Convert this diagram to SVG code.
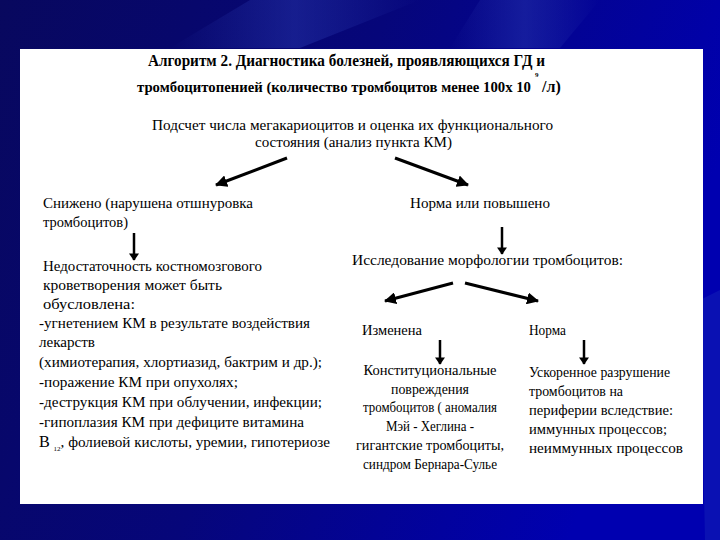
<svg xmlns="http://www.w3.org/2000/svg" width="720" height="540" viewBox="0 0 720 540">
<defs>
<linearGradient id="bg" x1="0" y1="0" x2="1" y2="0.3">
<stop offset="0" stop-color="#08085e"/>
<stop offset="0.5" stop-color="#06067a"/>
<stop offset="1" stop-color="#0000b0"/>
</linearGradient>
<linearGradient id="streak" x1="0" y1="0" x2="1" y2="0">
<stop offset="0" stop-color="#2a3ab0" stop-opacity="0"/>
<stop offset="0.5" stop-color="#2a3ab0" stop-opacity="0.45"/>
<stop offset="1" stop-color="#2a3ab0" stop-opacity="0"/>
</linearGradient>
<marker id="ah" viewBox="0 0 12 12" refX="11" refY="6" markerWidth="12" markerHeight="12" markerUnits="userSpaceOnUse" orient="auto">
<path d="M0,0 L12,6 L0,12 Z" fill="#000"/>
</marker>
<marker id="ad" viewBox="0 0 10 14" refX="9" refY="7" markerWidth="14" markerHeight="10" markerUnits="userSpaceOnUse" orient="auto">
<path d="M0,0 L10,7 L0,14 Z" fill="#000"/>
</marker>
</defs>
<style>
text{font-family:"Liberation Serif","DejaVu Serif","Times New Roman",serif;font-size:15px;fill:#000}
.t{font-weight:bold;font-size:16px}
.m{text-anchor:middle}
.c{stroke:#000;stroke-width:3;fill:none}
.d{stroke:#000;stroke-width:2.5;fill:none}
</style>
<rect width="720" height="540" fill="url(#bg)"/>
<path d="M250,0 L420,0 L300,48 L170,48 Z" fill="url(#streak)"/>
<path d="M480,0 L600,0 L560,48 L450,48 Z" fill="url(#streak)"/>
<path d="M700,300 L720,290 L720,540 L705,540 Z" fill="#1a2ab8" opacity="0.4"/>
<rect x="20" y="49" width="683" height="455" fill="#fff"/>

<g id="title">
<text class="t" x="148" y="66" textLength="397" lengthAdjust="spacingAndGlyphs">Алгоритм 2. Диагностика болезней, проявляющихся ГД и</text>
<text class="t" x="137" y="92" style="font-size:15px" textLength="394" lengthAdjust="spacingAndGlyphs">тромбоцитопенией (количество тромбоцитов менее 100х 10</text>
<text class="t" x="535" y="77" style="font-size:7px">9</text>
<text class="t" x="542" y="92">/л)</text>
</g>

<g id="root">
<text x="152" y="130" textLength="401" lengthAdjust="spacingAndGlyphs">Подсчет числа мегакариоцитов  и оценка их функционального</text>
<text x="255" y="147" textLength="197" lengthAdjust="spacingAndGlyphs">состояния (анализ пункта КМ)</text>
</g>

<g id="reduced">
<text x="43" y="208" textLength="210" lengthAdjust="spacingAndGlyphs">Снижено (нарушена отшнуровка</text>
<text x="43" y="227" textLength="85" lengthAdjust="spacingAndGlyphs">тромбоцитов)</text>
</g>

<g id="insufficiency">
<text x="43" y="271" textLength="219" lengthAdjust="spacingAndGlyphs">Недостаточность костномозгового</text>
<text x="43" y="290" textLength="179" lengthAdjust="spacingAndGlyphs">кроветворения может быть</text>
<text x="43" y="309" textLength="92" lengthAdjust="spacingAndGlyphs">обусловлена:</text>
</g>

<g id="causes">
<text x="39" y="328" textLength="271" lengthAdjust="spacingAndGlyphs">-угнетением КМ в  результате воздействия</text>
<text x="39" y="347" textLength="56" lengthAdjust="spacingAndGlyphs">лекарств</text>
<text x="39" y="367" textLength="283" lengthAdjust="spacingAndGlyphs">(химиотерапия, хлортиазид, бактрим и др.);</text>
<text x="39" y="387" textLength="199" lengthAdjust="spacingAndGlyphs">-поражение КМ при опухолях;</text>
<text x="39" y="407" textLength="283" lengthAdjust="spacingAndGlyphs">-деструкция КМ при облучении, инфекции;</text>
<text x="39" y="427" textLength="265" lengthAdjust="spacingAndGlyphs">-гипоплазия КМ при дефиците витамина</text>
<text x="39" y="447" textLength="291" lengthAdjust="spacingAndGlyphs"><tspan style="font-size:16px">В</tspan> <tspan dy="4" style="font-size:7px">12</tspan><tspan dy="-4">, фолиевой кислоты, уремии, гипотериозе</tspan></text>
</g>

<g id="normal-high">
<text x="410" y="208" textLength="140" lengthAdjust="spacingAndGlyphs">Норма или повышено</text>
</g>

<g id="morphology">
<text x="352" y="265" textLength="271" lengthAdjust="spacingAndGlyphs">Исследование морфологии тромбоцитов:</text>
</g>

<g id="changed">
<text x="362" y="335" textLength="60" lengthAdjust="spacingAndGlyphs">Изменена</text>
</g>

<g id="norm">
<text x="529" y="335" textLength="37" lengthAdjust="spacingAndGlyphs">Норма</text>
</g>

<g id="constitutional">
<text class="m" x="430" y="375" textLength="133" lengthAdjust="spacingAndGlyphs">Конституциональные</text>
<text class="m" x="430" y="394" textLength="78" lengthAdjust="spacingAndGlyphs">повреждения</text>
<text class="m" x="430" y="412" textLength="134" lengthAdjust="spacingAndGlyphs">тромбоцитов ( аномалия</text>
<text class="m" x="430" y="431" textLength="88" lengthAdjust="spacingAndGlyphs">Мэй - Хеглина -</text>
<text class="m" x="430" y="450" textLength="148" lengthAdjust="spacingAndGlyphs">гигантские тромбоциты,</text>
<text class="m" x="430" y="469" textLength="134" lengthAdjust="spacingAndGlyphs">синдром Бернара-Сулье</text>
</g>

<g id="destruction">
<text x="529" y="377" textLength="141" lengthAdjust="spacingAndGlyphs">Ускоренное разрушение</text>
<text x="529" y="396" textLength="94" lengthAdjust="spacingAndGlyphs">тромбоцитов на</text>
<text x="529" y="415" textLength="144" lengthAdjust="spacingAndGlyphs">периферии вследствие:</text>
<text x="529" y="434" textLength="138" lengthAdjust="spacingAndGlyphs">иммунных процессов;</text>
<text x="529" y="453" textLength="154" lengthAdjust="spacingAndGlyphs">неиммунных процессов</text>
</g>

<g id="connectors">
<line class="c" x1="287" y1="158" x2="216" y2="185" marker-end="url(#ah)"/>
<line class="c" x1="395" y1="158" x2="468" y2="185" marker-end="url(#ah)"/>
<line class="d" x1="134" y1="233" x2="134" y2="260" marker-end="url(#ad)"/>
<line class="d" x1="502" y1="227" x2="502" y2="254" marker-end="url(#ad)"/>
<line class="c" x1="453" y1="283" x2="385" y2="301" marker-end="url(#ah)"/>
<line class="c" x1="465" y1="283" x2="538" y2="301" marker-end="url(#ah)"/>
<line class="d" x1="440" y1="340" x2="440" y2="364" marker-end="url(#ad)"/>
<line class="d" x1="584" y1="340" x2="584" y2="364" marker-end="url(#ad)"/>
</g>
</svg>
